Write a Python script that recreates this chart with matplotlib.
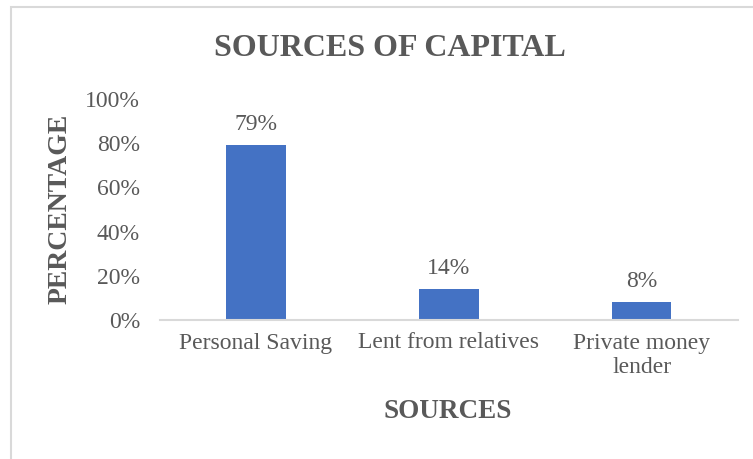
import matplotlib
matplotlib.use("Agg")
import matplotlib.pyplot as plt
from matplotlib.patches import Rectangle
from matplotlib.ticker import PercentFormatter

# capital sources, share of respondents
sources = ["Personal Saving", "Lent from relatives", "Private money\nlender"]
shares = [0.79, 0.14, 0.08]
share_labels = ["79%", "14%", "8%"]

plt.rcParams['font.family'] = ['Liberation Serif', 'DejaVu Serif']
text_grey = '#595959'
line_grey = '#d9d9d9'
bar_blue = '#4472c4'

fig = plt.figure(figsize=(7.53, 4.59), dpi=100)
W, H = 753, 459

# thin frame around the whole chart area
fig.patches.append(Rectangle((11 / W, -0.1), 1.2, 1 - 7 / H + 0.1,
                             transform=fig.transFigure, fill=False,
                             edgecolor=line_grey, linewidth=1.5))

ax = fig.add_axes([159.5 / W, 1 - 320 / H, (738 - 159.5) / W, (320 - 99) / H])
x = range(len(sources))
bars = ax.bar(x, shares, width=0.31, color=bar_blue)

for b, lab in zip(bars, share_labels):
    ax.text(b.get_x() + b.get_width() / 2, b.get_height() + 0.045, lab,
            ha='center', va='bottom', fontsize=17, color=text_grey)

ax.set_xlim(-0.5, 2.5)
ax.set_ylim(0, 1.0)
ax.set_yticks([0, 0.2, 0.4, 0.6, 0.8, 1.0])
ax.yaxis.set_major_formatter(PercentFormatter(1.0, decimals=0))
ax.set_xticks(list(x))
ax.set_xticklabels(sources, linespacing=1.2)
ax.tick_params(axis='both', length=0, labelsize=17, labelcolor=text_grey)
ax.tick_params(axis='y', pad=14)
ax.tick_params(axis='x', pad=9)

for side in ['top', 'right', 'left']:
    ax.spines[side].set_visible(False)
ax.spines['bottom'].set_color(line_grey)
ax.spines['bottom'].set_linewidth(1.5)

fig.text(390 / W, 1 - 48 / H, "SOURCES OF CAPITAL", ha='center', va='center',
         fontsize=23, fontweight='bold', color=text_grey)
fig.text(448 / W, 1 - 412 / H, "SOURCES", ha='center', va='center',
         fontsize=19.5, fontweight='bold', color=text_grey)
fig.text(60 / W, 1 - 209 / H, "PERCENTAGE", ha='center', va='center',
         rotation=90, fontsize=20, fontweight='bold', color=text_grey)

fig.savefig("out.png", dpi=100)
